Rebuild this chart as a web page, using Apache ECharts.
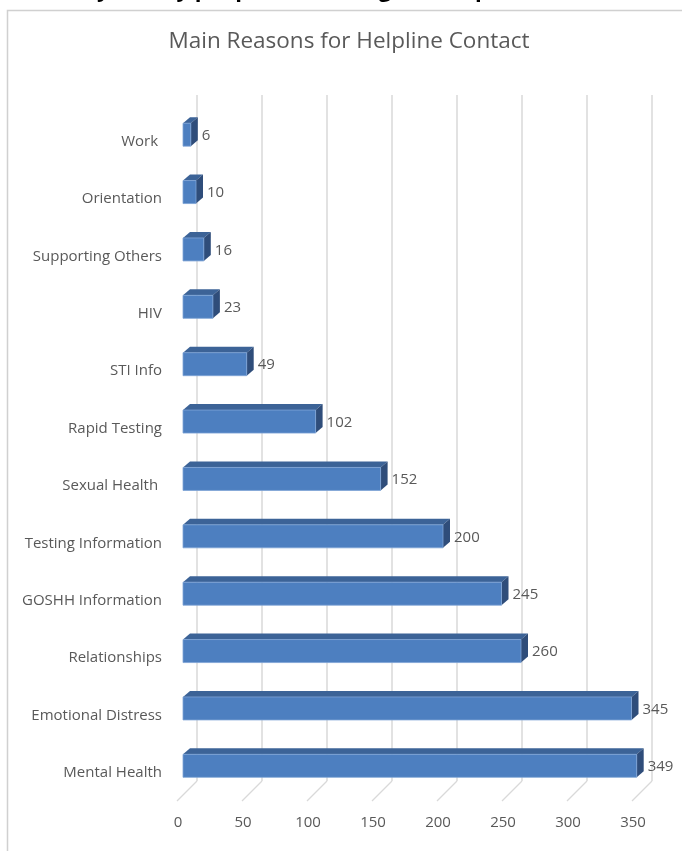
<!DOCTYPE html>
<html>
<head>
<meta charset="utf-8">
<script src="https://cdn.jsdelivr.net/npm/echarts@6/dist/echarts.min.js"></script>
<style>
  html, body { margin: 0; padding: 0; background: #fff; }
  #main { width: 682px; height: 851px; }
</style>
</head>
<body>
<div id="main"></div>
<script>
(function () {
    "use strict";

    const categories = ['Work ', 'Orientation', 'Supporting Others', 'HIV', 'STI Info', 'Rapid Testing',
        'Sexual Health ', 'Testing Information', 'GOSHH Information', 'Relationships', 'Emotional Distress', 'Mental Health'];
    const values = [6, 10, 16, 23, 49, 102, 152, 200, 245, 260, 345, 349];
    const xTicks = [0, 50, 100, 150, 200, 250, 300, 350];

    const font = '"Open Sans", "Liberation Sans", sans-serif';
    const textColor = '#595959';
    const gridColor = '#d9d9d9';

    // 3d look: depth of each bar
    const dx = 7, dy = 6, barH = 23;

    let myChart = echarts.init(document.getElementById('main'));

    function renderBar(params, api) {
        let v = api.value(0);
        let p0 = api.coord([0, api.value(1)]);
        let p1 = api.coord([v, api.value(1)]);
        let x0 = p0[0], x1 = p1[0];
        let cy = p1[1] - 7;
        let yt = cy - barH / 2, yb = cy + barH / 2;
        return {
            type: 'group',
            children: [
                {
                    type: 'polygon',
                    shape: { points: [[x0, yt], [x0 + dx, yt - dy], [x1 + dx, yt - dy], [x1, yt]] },
                    style: { fill: '#3c6397' }
                },
                {
                    type: 'polygon',
                    shape: { points: [[x1, yt], [x1 + dx, yt - dy], [x1 + dx, yb - dy], [x1, yb]] },
                    style: { fill: '#2f4d7a' }
                },
                {
                    type: 'rect',
                    shape: { x: x0, y: yt, width: x1 - x0, height: barH },
                    style: { fill: '#4d7fc0', stroke: '#7ea3d6', lineWidth: 0.8 }
                },
                {
                    type: 'text',
                    style: {
                        text: String(v),
                        x: x1 + dx + 4,
                        y: cy + 1,
                        verticalAlign: 'middle',
                        align: 'left',
                        fill: textColor,
                        fontSize: 15,
                        fontFamily: font
                    }
                }
            ]
        };
    }

    function renderFloor(params, api) {
        let p = api.coord([api.value(0), 0]);
        return {
            type: 'line',
            shape: { x1: p[0], y1: p[1], x2: p[0] - 20, y2: p[1] + 20 },
            style: { stroke: gridColor, lineWidth: 1.2 }
        };
    }

    let option = {
        animation: false,
        backgroundColor: '#fff',
        graphic: [
            {
                type: 'text',
                x: 4, y: -20,
                style: {
                    text: 'Summary of why people contacting our helpline:',
                    fill: '#000',
                    font: 'bold 22px ' + font
                }
            },
            {
                type: 'rect',
                shape: { x: 7.5, y: 10.5, width: 720, height: 900 },
                style: { fill: '#fff', stroke: '#d0d0d0', lineWidth: 1.5 },
                z: -1
            },
            {
                type: 'text',
                x: 349, y: 42,
                style: {
                    text: 'Main Reasons for Helpline Contact',
                    align: 'center',
                    verticalAlign: 'middle',
                    fill: textColor,
                    fontSize: 22.5,
                    fontFamily: font
                }
            }
        ],
        grid: [
            { left: 183, right: 44, top: 113, bottom: 49.5 },   // front: bars
            { left: 197, right: 30, top: 95, bottom: 70 }        // back: gridlines
        ],
        xAxis: [
            {
                gridIndex: 0, type: 'value', min: 0, max: 350, interval: 50,
                axisLine: { show: false }, axisTick: { show: false }, splitLine: { show: false },
                axisLabel: { color: textColor, fontSize: 15, fontFamily: font, margin: 14, padding: [0, 10, 0, 0] }
            },
            {
                gridIndex: 1, type: 'value', min: 0, max: 350, interval: 50,
                axisLine: { show: false }, axisTick: { show: false }, axisLabel: { show: false },
                splitLine: { show: true, lineStyle: { color: gridColor, width: 1.5 } }
            }
        ],
        yAxis: [
            {
                gridIndex: 0, type: 'category', data: categories, inverse: true,
                axisLine: { show: false }, axisTick: { show: false },
                axisLabel: { color: textColor, fontSize: 15, fontFamily: font, margin: 21 }
            },
            {
                gridIndex: 1, type: 'value', min: 0, max: 1, show: false
            }
        ],
        series: [
            {
                type: 'custom',
                xAxisIndex: 1, yAxisIndex: 1,
                renderItem: renderFloor,
                data: xTicks.map(v => [v, 0]),
                silent: true
            },
            {
                type: 'custom',
                xAxisIndex: 0, yAxisIndex: 0,
                renderItem: renderBar,
                encode: { x: 0, y: 1 },
                data: values.map((v, i) => [v, i]),
                z: 5
            }
        ]
    };
    myChart.setOption(option);
})();
</script>
</body>
</html>
